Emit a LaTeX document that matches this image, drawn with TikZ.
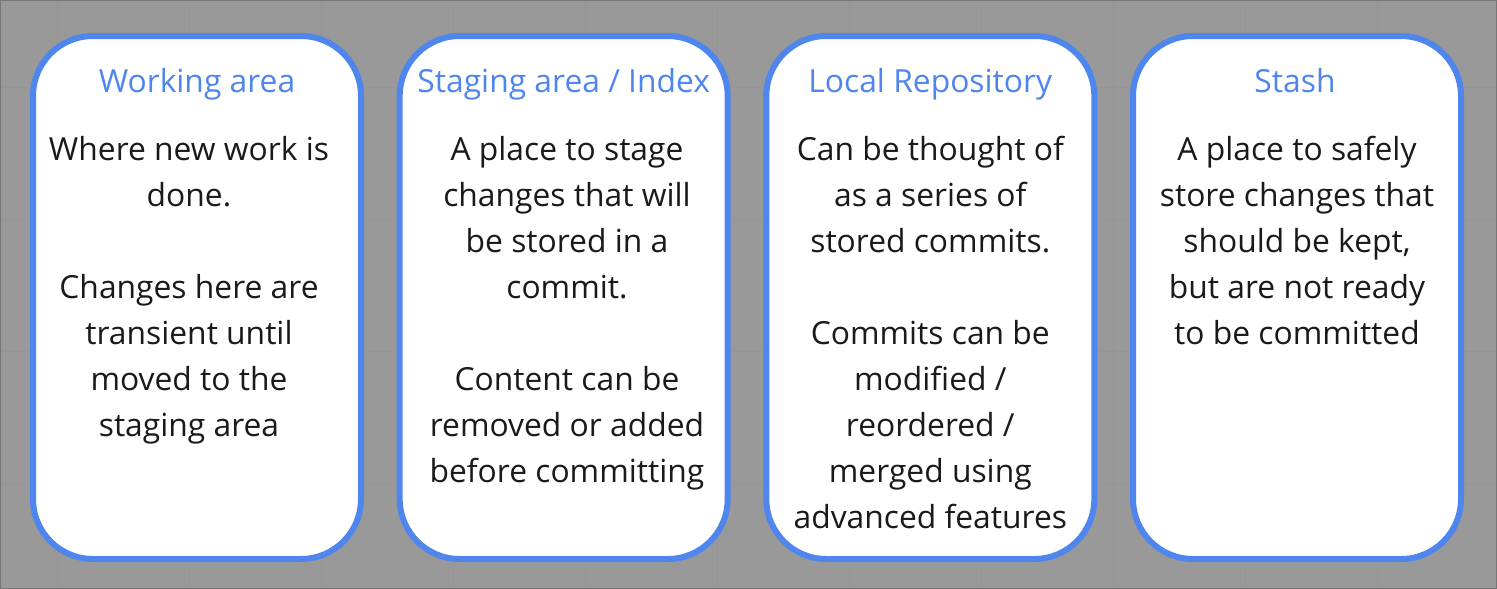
\documentclass[tikz,border=0pt]{standalone}
\usepackage{fontspec}
\setmainfont{Open Sans}
\definecolor{bg}{HTML}{999999}
\definecolor{gridc}{HTML}{959595}
\definecolor{edge}{HTML}{777777}
\definecolor{blu}{HTML}{4F86EE}
\definecolor{txt}{HTML}{1A1A1A}
\newcommand{\fl}{\rule{0pt}{30pt}}
\tikzset{
  card/.style={draw=blu, line width=6pt, fill=white, rounded corners=60pt, minimum width=328pt, minimum height=523pt, inner sep=0pt},
  ttl/.style={text=blu, font=\fontsize{31.8}{46}\selectfont, anchor=base, inner sep=0pt},
  body/.style={text=txt, font=\fontsize{31.8}{46}\selectfont, align=center, anchor=north, inner sep=0pt},
}
\begin{document}
\begin{tikzpicture}[x=1pt,y=-1pt]
\useasboundingbox (0,0) rectangle (1497,589);
\fill[bg] (0,0) rectangle (1497,589);
\foreach \gx in {57,189,321,453,585,717,849,981,1113,1245,1377} \draw[gridc, line width=1pt] (\gx,0) -- (\gx,589);
\foreach \gy in {87,219,351,483} \draw[gridc, line width=1pt] (0,\gy) -- (1497,\gy);
\draw[edge, line width=2pt] (0,0) rectangle (1497,589);
\node[card] (b1) at (197,297.5) {};
\node[card] (b2) at (563.7,297.5) {};
\node[card] (b3) at (930.3,297.5) {};
\node[card] (b4) at (1297,297.5) {};
\node[ttl] (t1) at (197,92) {Working area};
\node[ttl] (t2) at (563.7,92) {Staging area / Index};
\node[ttl] (t3) at (930.3,92) {Local Repository};
\node[ttl] (t4) at (1295,92) {Stash};
\node[body] (d1) at (189,130) {\fl Where new work is\\done.\\[46pt]Changes here are\\transient until\\moved to the\\staging area};
\node[body] (d2) at (567,130) {\fl A place to stage\\changes that will\\be stored in a\\commit.\\[46pt]Content can be\\removed or added\\before committing};
\node[body] (d3) at (930.3,130) {\fl Can be thought of\\as a series of\\stored commits.\\[46pt]Commits can be\\modified /\\reordered /\\merged using\\advanced features};
\node[body] (d4) at (1297,130) {\fl A place to safely\\store changes that\\should be kept,\\but are not ready\\to be committed};
\end{tikzpicture}
\end{document}
